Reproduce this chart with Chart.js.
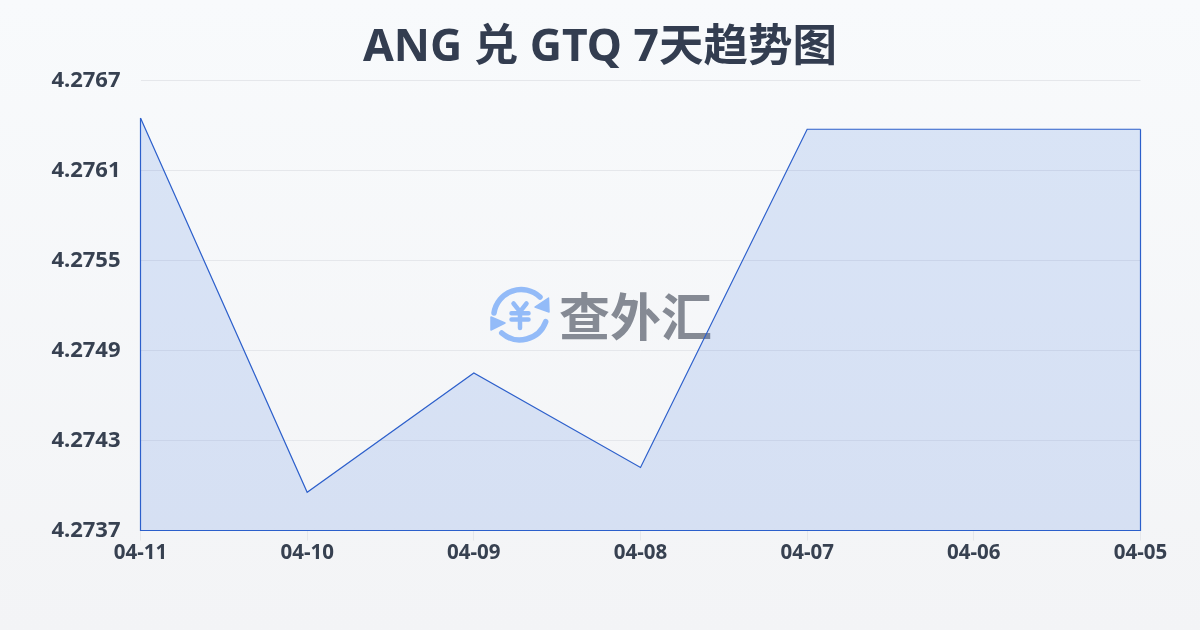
<!DOCTYPE html>
<html lang="zh"><head><meta charset="utf-8">
<script src="https://cdn.jsdelivr.net/npm/chart.js@4"></script>
<style>
html,body{margin:0;padding:0;width:1200px;height:630px;overflow:hidden}
body{background:linear-gradient(180deg,#f8fafc 0%,#f3f4f6 100%);position:relative;font-family:"Noto Sans","Noto Sans CJK SC",sans-serif}
#c{position:absolute;left:0;top:0;width:1200px;height:630px;z-index:2}
#wm{position:absolute;left:485px;top:280px;z-index:1}
#wt{position:absolute;left:559px;top:278px;z-index:1;font:700 51px/72px "Noto Sans CJK SC",sans-serif;color:#858a94;letter-spacing:0;white-space:nowrap}
</style></head><body>
<svg id="wm" width="70" height="70" viewBox="0 0 70 70" fill="none" stroke="#93bbf8" stroke-linecap="round" stroke-linejoin="round">
<path d="M9 33 A27.5 27.5 0 0 1 55 17" stroke-width="5.5"/>
<path d="M63.5 18 L64 32 L50 27 Z" fill="#93bbf8" stroke-width="1.5"/>
<path d="M60.7 41.7 A27.5 27.5 0 0 1 16.7 53" stroke-width="5.5"/>
<path d="M6 37 L6 50 L20 43 Z" fill="#93bbf8" stroke-width="1.5"/>
<path d="M28.5 23.5 L35 31.7 L41.5 23.5 M35 31.7 V48 M26.5 33.3 H43.5 M26.5 39.5 H43.5" stroke-width="4.5"/>
</svg>
<div id="wt">查外汇</div>
<canvas id="c" width="1200" height="630"></canvas>
<script>
const categories = ['04-11','04-10','04-09','04-08','04-07','04-06','04-05'];
const rates = [4.27645,4.273955,4.27475,4.27412,4.276375,4.276375,4.276375];
const yMin = 4.2737, yMax = 4.2767;
const yStep = 0.0006;
const outline = [
  {x:categories[0],y:rates[0]},
  {x:categories[0],y:yMin},
  {x:categories[6],y:yMin},
  {x:categories[6],y:rates[6]}
];
const ink = '#374151';
const blue = '#2c5fcb';
Chart.defaults.font.family = '"Noto Sans","Noto Sans CJK SC",sans-serif';
new Chart(document.getElementById('c'),{
  type:'line',
  data:{labels:categories,datasets:[
    {data:rates,borderColor:blue,borderWidth:1.2,backgroundColor:'rgba(50,105,220,0.15)',fill:'start',pointRadius:0,tension:0,clip:false},
    {data:outline,borderColor:blue,borderWidth:1.2,fill:false,pointRadius:0,tension:0,clip:false}
  ]},
  options:{
    responsive:false,animation:false,
    plugins:{legend:{display:false},tooltip:{enabled:false},
      title:{display:true,text:'ANG 兑 GTQ 7天趋势图',color:'#333d50',font:{size:44.5,weight:'700',lineHeight:1.2},padding:{top:21.5,bottom:5.6}}
    },
    scales:{
      x:{offset:false,border:{display:false},
        grid:{drawOnChartArea:false,drawTicks:true,tickLength:10,tickColor:'#e5e7eb',lineWidth:1},
        ticks:{color:ink,font:{size:20.5,weight:'700'},padding:0,maxRotation:0,autoSkip:false},
        afterFit(s){s.height=99.5}},
      y:{min:yMin,max:yMax,border:{display:false},
        grid:{color:'#e5e7eb',lineWidth:1,drawTicks:false},
        ticks:{stepSize:yStep,color:ink,font:{size:22,weight:'700'},padding:20,callback:v=>v.toFixed(4)},
        afterFit(s){s.width=140.5}},
      gutter:{position:'right',display:true,border:{display:false},grid:{display:false},ticks:{display:false},
        afterFit(s){s.width=59.5}}
    }
  }
});
</script></body></html>
